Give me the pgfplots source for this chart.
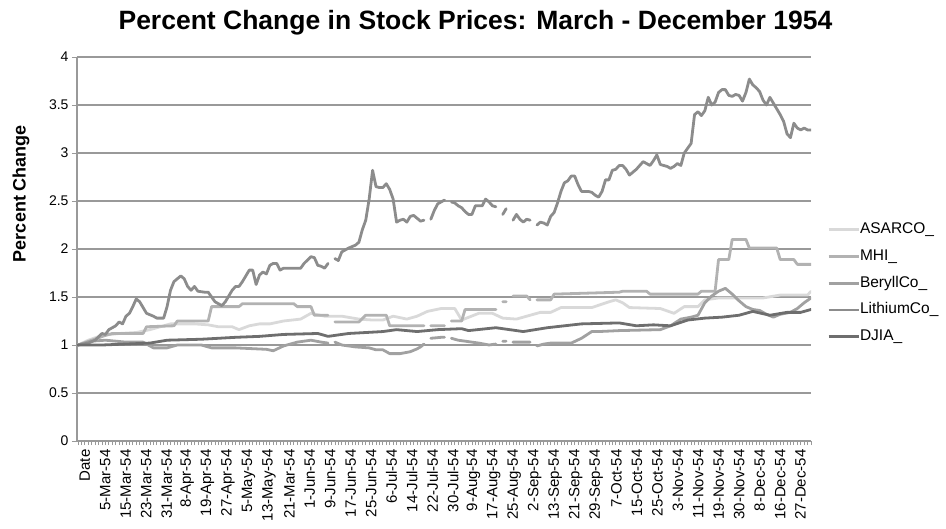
\documentclass[border=0pt]{standalone}
\usepackage{fontspec}
\setmainfont{Liberation Sans}
\usepackage{pgfplots}
\usepackage{pgfplotstable}
\pgfplotsset{compat=1.18}

\definecolor{asarcocol}{gray}{0.85}
\definecolor{mhicol}{gray}{0.70}
\definecolor{beryllcol}{gray}{0.63}
\definecolor{lithiumcol}{gray}{0.55}
\definecolor{djiacol}{gray}{0.43}
\definecolor{gridcol}{gray}{0.60}

% index = trading day (0 = first row), value = price relative to start
\pgfplotstableread{
i v
0 1.00
3 1.05
7 1.10
12 1.12
17 1.13
21 1.16
24 1.19
27 1.22
34 1.22
38 1.21
41 1.19
45 1.19
47 1.16
50 1.20
53 1.22
56 1.22
60 1.25
65 1.27
68 1.33
72 1.30
77 1.30
82 1.27
86 1.26
89 1.26
92 1.30
96 1.27
99 1.30
102 1.35
106 1.38
110 1.38
112 1.26
117 1.33
121 1.33
124 1.28
128 1.27
131 1.30
135 1.34
138 1.34
141 1.39
150 1.39
155 1.45
157 1.47
159 1.44
161 1.39
170 1.38
174 1.33
177 1.40
181 1.40
183 1.47
187 1.49
200 1.49
205 1.52
213 1.52
214 1.56
}\asarco

\pgfplotstableread{
i v
0 1.00
4 1.05
8 1.10
10 1.12
19 1.12
20 1.19
28 1.20
29 1.25
38 1.25
39 1.40
47 1.40
48 1.43
63 1.43
64 1.40
68 1.40
69 1.31
73 1.31
74 nan
75 1.24
82 1.24
84 1.31
90 1.31
91 1.20
101 1.20
102 nan
103 1.20
107 1.20
108 nan
109 1.25
112 1.25
113 1.37
122 1.37
123 nan
124 1.45
125 1.45
126 nan
127 1.51
131 1.51
132 1.47
133 nan
134 1.47
138 1.47
139 1.53
158 1.55
159 1.56
166 1.56
167 1.53
181 1.53
182 1.56
186 1.56
187 1.89
190 1.89
191 2.10
195 2.10
196 2.01
204 2.01
205 1.89
209 1.89
210 1.84
214 1.84
}\mhi

\pgfplotstableread{
i v
0 1.00
4 1.04
8 1.05
14 1.03
19 1.03
22 0.97
26 0.97
29 1.00
36 1.00
39 0.97
46 0.97
52 0.96
55 0.955
57 0.94
60 0.99
64 1.03
68 1.05
71 1.03
73 1.02
74 nan
75 1.03
77 1.00
81 0.98
85 0.97
87 0.95
89 0.95
91 0.91
94 0.91
97 0.93
99 0.96
100 0.98
101 1.01
102 nan
103 1.07
106 1.08
107 1.08
108 nan
109 1.07
111 1.05
113 1.04
117 1.02
120 1.00
122 1.01
123 nan
124 1.04
125 1.04
126 nan
127 1.03
132 1.03
133 nan
134 0.99
136 1.01
138 1.02
144 1.02
147 1.07
150 1.14
152 1.14
158 1.15
170 1.16
173 1.20
176 1.27
179 1.29
181 1.31
183 1.44
185 1.51
187 1.56
189 1.59
191 1.53
193 1.46
195 1.40
197 1.37
199 1.36
201 1.32
203 1.29
205 1.32
208 1.34
210 1.38
212 1.44
214 1.49
}\beryll

\pgfplotstableread{
i v
0 1.00
3 1.02
5 1.05
7 1.12
8 1.11
9 1.16
11 1.20
12 1.24
13 1.22
14 1.30
15 1.33
16 1.40
17 1.48
18 1.45
20 1.33
22 1.30
23 1.28
25 1.28
26 1.40
27 1.57
28 1.66
30 1.72
31 1.69
32 1.61
33 1.57
34 1.61
35 1.56
37 1.55
38 1.55
39 1.50
40 1.45
42 1.41
43 1.45
45 1.57
46 1.61
47 1.61
48 1.66
50 1.78
51 1.78
52 1.63
53 1.73
54 1.76
55 1.74
56 1.83
57 1.85
58 1.85
59 1.78
60 1.80
65 1.80
66 1.85
68 1.92
69 1.91
70 1.83
71 1.82
72 1.80
73 1.85
74 nan
75 1.90
76 1.88
77 1.97
79 2.01
81 2.04
82 2.07
83 2.20
84 2.30
85 2.52
86 2.82
87 2.65
88 2.64
89 2.64
90 2.68
91 2.62
92 2.52
93 2.28
94 2.30
95 2.31
96 2.28
97 2.34
98 2.35
99 2.32
100 2.29
101 2.30
102 nan
103 2.31
104 2.40
105 2.47
106 2.49
107 2.51
108 nan
109 2.49
110 2.48
111 2.45
112 2.43
113 2.39
114 2.36
115 2.36
116 2.45
117 2.45
118 2.45
119 2.52
120 2.49
121 2.45
122 2.44
123 nan
124 2.36
125 2.42
126 nan
127 2.30
128 2.36
129 2.31
130 2.28
131 2.31
132 2.30
133 nan
134 2.25
135 2.28
136 2.27
137 2.25
138 2.34
139 2.38
140 2.48
141 2.60
142 2.69
143 2.71
144 2.76
145 2.76
146 2.67
147 2.60
149 2.60
150 2.59
151 2.56
152 2.54
153 2.60
154 2.72
155 2.72
156 2.82
157 2.83
158 2.87
159 2.87
160 2.83
161 2.77
162 2.80
163 2.83
164 2.87
165 2.91
166 2.89
167 2.87
168 2.92
169 2.98
170 2.88
171 2.87
172 2.86
173 2.84
174 2.86
175 2.89
176 2.87
177 3.00
178 3.05
179 3.10
180 3.40
181 3.43
182 3.39
183 3.44
184 3.58
185 3.50
186 3.53
187 3.63
188 3.66
189 3.66
190 3.60
191 3.59
192 3.61
193 3.60
194 3.54
195 3.63
196 3.77
197 3.71
198 3.68
199 3.64
200 3.55
201 3.50
202 3.58
203 3.52
204 3.46
205 3.40
206 3.33
207 3.20
208 3.16
209 3.31
210 3.26
211 3.24
212 3.26
213 3.24
214 3.24
}\lithium

\pgfplotstableread{
i v
0 1.00
7 1.00
14 1.01
21 1.02
26 1.05
36 1.06
46 1.08
53 1.09
60 1.11
70 1.12
73 1.09
79 1.12
89 1.14
93 1.16
99 1.14
105 1.16
112 1.17
114 1.15
122 1.18
130 1.14
137 1.18
147 1.22
158 1.23
163 1.20
168 1.21
173 1.20
178 1.26
183 1.28
188 1.29
193 1.31
197 1.35
202 1.31
207 1.34
211 1.34
214 1.37
}\djia

\begin{document}
\begin{tikzpicture}[x=1pt,y=1pt]
% axis corner sits at the origin; canvas runs from (-77,-87) to (869,441)
\begin{axis}[
  width=734pt, height=384pt, scale only axis,
  xmin=-0.3, xmax=214, ymin=0, ymax=4,
  axis lines*=left,
  axis line style={draw=gridcol, line width=1.2pt},
  ymajorgrids, grid style={draw=gridcol, line width=1.1pt},
  ytick={0,0.5,...,4},
  yticklabels={0,0.5,1,1.5,2,2.5,3,3.5,4},
  yticklabel style={font=\fontsize{14}{16}\selectfont},
  xtick={2,7.97,...,211},
  xticklabels={Date,5-Mar-54,15-Mar-54,23-Mar-54,31-Mar-54,8-Apr-54,19-Apr-54,27-Apr-54,5-May-54,13-May-54,21-Mar-54,1-Jun-54,9-Jun-54,17-Jun-54,25-Jun-54,6-Jul-54,14-Jul-54,22-Jul-54,30-Jul-54,9-Aug-54,17-Aug-54,25-Aug-54,2-Sep-54,13-Sep-54,21-Sep-54,29-Sep-54,7-Oct-54,15-Oct-54,25-Oct-54,3-Nov-54,11-Nov-54,19-Nov-54,30-Nov-54,8-Dec-54,16-Dec-54,27-Dec-54},
  xticklabel style={rotate=90, anchor=east, font=\fontsize{15}{17}\selectfont},
  minor xtick={0,1,...,214},
  tick align=outside,
  major tick length=5pt, minor tick length=4pt,
  tick style={draw=gridcol, line width=0.8pt},
  major x tick style={draw=none},
  unbounded coords=jump,
  every axis plot/.append style={line width=2.8pt, line join=round, line cap=round},
  legend cell align=left,
  legend image code/.code={\draw[#1, line width=2.8pt, line cap=butt] (0pt,0pt) -- (30pt,0pt);},
  legend style={at={(axis description cs:1.0218,0.4107)}, anchor=west,
    draw=none, fill=none, inner sep=0pt,
    font=\fontsize{15.5}{18}\selectfont, row sep=12.7pt,
    nodes={inner sep=0pt, text height=11pt, text depth=3pt},
    /tikz/every even column/.append style={column sep=9pt}},
]
\addplot[asarcocol] table[x=i,y=v] {\asarco};
\addlegendentry{ASARCO\_}
\addplot[mhicol] table[x=i,y=v] {\mhi};
\addlegendentry{MHI\_}
\addplot[beryllcol] table[x=i,y=v] {\beryll};
\addlegendentry{BeryllCo\_}
\addplot[lithiumcol] table[x=i,y=v] {\lithium};
\addlegendentry{LithiumCo\_}
\addplot[djiacol] table[x=i,y=v] {\djia};
\addlegendentry{DJIA\_}
\end{axis}
\node[font=\bfseries\fontsize{26.5}{30}\selectfont, anchor=base] at (398.5,411) {Percent Change in Stock Prices: March - December 1954};
\node[rotate=90, font=\bfseries\fontsize{18}{22}\selectfont] at (-56,247.5) {Percent Change};
\pgfresetboundingbox
\useasboundingbox (-77,-87) rectangle (869,441);
\end{tikzpicture}
\end{document}
